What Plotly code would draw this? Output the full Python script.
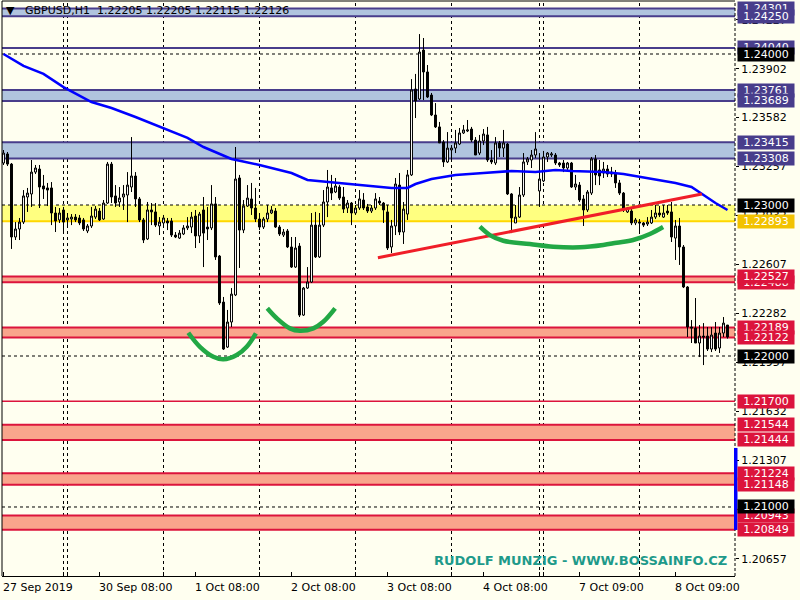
import plotly.graph_objects as go

# ---------------- data ----------------
bar_index = list(range(182))

open_ = [1.23278,1.23338,1.23271,1.22788,1.22841,1.22887,1.23053,1.23073,1.23218,1.23238,
 1.23126,1.23113,1.23113,1.22947,1.22901,1.22967,1.22901,1.22907,1.22920,1.22914,
 1.22901,1.22828,1.22861,1.22920,1.22960,1.22907,1.23013,1.23271,1.23060,1.23020,
 1.23053,1.23066,1.23119,1.23192,1.23040,1.22901,1.22775,1.22967,1.22954,1.22861,
 1.22881,1.22894,1.22894,1.22801,1.22781,1.22808,1.22848,1.22854,1.22927,1.22795,
 1.22967,1.22854,1.22848,1.23007,1.22662,1.22357,1.22059,1.22225,1.22404,1.23179,
 1.22834,1.22993,1.23040,1.22980,1.22907,1.22854,1.22907,1.22947,1.22960,1.22854,
 1.22801,1.22828,1.22722,1.22589,1.22728,1.22271,1.22450,1.22490,1.22867,1.22656,
 1.22867,1.23020,1.23113,1.23086,1.23119,1.23053,1.22980,1.23013,1.22947,1.22980,
 1.23033,1.22987,1.22960,1.22980,1.23026,1.23013,1.22954,1.22722,1.22861,1.23132,
 1.22821,1.22940,1.23199,1.23768,1.23702,1.24026,1.23881,1.23728,1.23596,1.23517,
 1.23417,1.23285,1.23364,1.23377,1.23404,1.23477,1.23490,1.23503,1.23430,1.23344,
 1.23424,1.23464,1.23298,1.23278,1.23411,1.23377,1.23404,1.23073,1.22881,1.22920,
 1.23066,1.23285,1.23298,1.23331,1.23093,1.23159,1.23318,1.23331,1.23331,1.23278,
 1.23278,1.23245,1.23278,1.23119,1.23132,1.23040,1.22967,1.23079,1.23305,1.23232,
 1.23212,1.23238,1.23218,1.23205,1.23146,1.23079,1.22954,1.22960,1.22881,1.22887,
 1.22881,1.22874,1.22881,1.22920,1.22947,1.22920,1.22960,1.22954,1.22781,1.22861,
 1.22722,1.22457,1.22192,1.22185,1.22086,1.22132,1.22132,1.22046,1.22152,1.22053,
 1.22152,1.22205]

high = [1.23364,1.23351,1.23278,1.22887,1.22914,1.23099,1.23113,1.23298,1.23265,1.23265,
 1.23199,1.23146,1.23152,1.22987,1.22980,1.22987,1.22947,1.22940,1.22940,1.22934,
 1.22914,1.22874,1.22987,1.22993,1.22980,1.23033,1.23285,1.23285,1.23132,1.23119,
 1.23132,1.23218,1.23450,1.23218,1.23053,1.22914,1.23020,1.23013,1.23013,1.22920,
 1.22934,1.22914,1.22914,1.22821,1.22834,1.22867,1.22920,1.22954,1.22967,1.22954,
 1.23053,1.22987,1.23132,1.23053,1.22669,1.22391,1.22305,1.22450,1.23384,1.23199,
 1.23033,1.23132,1.23146,1.23113,1.22947,1.22920,1.23000,1.22993,1.22980,1.22867,
 1.22841,1.22841,1.22788,1.22788,1.22748,1.22457,1.22589,1.22947,1.22954,1.22947,
 1.23099,1.23232,1.23199,1.23179,1.23132,1.23119,1.23033,1.23020,1.23000,1.23099,
 1.23079,1.23007,1.23000,1.23079,1.23053,1.23020,1.23000,1.22901,1.23179,1.23212,
 1.23020,1.23232,1.23834,1.23868,1.24132,1.24106,1.23927,1.23742,1.23675,1.23550,
 1.23430,1.23483,1.23397,1.23497,1.23510,1.23530,1.23563,1.23517,1.23450,1.23464,
 1.23503,1.23517,1.23364,1.23450,1.23424,1.23497,1.23411,1.23079,1.23000,1.23119,
 1.23344,1.23318,1.23364,1.23483,1.23344,1.23358,1.23351,1.23351,1.23344,1.23285,
 1.23298,1.23285,1.23285,1.23199,1.23152,1.23066,1.23099,1.23318,1.23331,1.23298,
 1.23285,1.23265,1.23252,1.23232,1.23166,1.23086,1.22987,1.22973,1.22914,1.22907,
 1.22887,1.22920,1.22967,1.23000,1.22993,1.23000,1.23000,1.23020,1.22901,1.22914,
 1.22735,1.22463,1.22238,1.22384,1.22205,1.22218,1.22192,1.22192,1.22225,1.22192,
 1.22258,1.22205]

low = [1.23265,1.23258,1.22709,1.22768,1.22768,1.22874,1.22954,1.22987,1.23205,1.22980,
 1.23040,1.22993,1.22867,1.22821,1.22881,1.22814,1.22854,1.22867,1.22887,1.22867,
 1.22828,1.22814,1.22848,1.22907,1.22894,1.22901,1.23007,1.23013,1.22987,1.22987,
 1.22967,1.22887,1.23086,1.22987,1.22887,1.22748,1.22768,1.22867,1.22854,1.22801,
 1.22854,1.22834,1.22788,1.22781,1.22775,1.22801,1.22834,1.22814,1.22715,1.22748,
 1.22589,1.22768,1.22834,1.22636,1.22338,1.22040,1.22053,1.22192,1.22397,1.22583,
 1.22814,1.22987,1.22934,1.22887,1.22834,1.22841,1.22887,1.22940,1.22848,1.22795,
 1.22788,1.22715,1.22583,1.22583,1.22258,1.22265,1.22444,1.22483,1.22649,1.22649,
 1.22854,1.22920,1.23033,1.23079,1.23033,1.22947,1.22947,1.22867,1.22934,1.22967,
 1.22967,1.22947,1.22947,1.22967,1.23000,1.22881,1.22702,1.22682,1.22801,1.22801,
 1.22742,1.22901,1.23192,1.23576,1.23695,1.23695,1.23709,1.23589,1.23510,1.23411,
 1.23252,1.23278,1.23298,1.23344,1.23397,1.23470,1.23483,1.23417,1.23331,1.23331,
 1.23397,1.23285,1.23271,1.23265,1.23318,1.23318,1.23066,1.22814,1.22881,1.22914,
 1.23053,1.23265,1.23245,1.23311,1.22987,1.23152,1.23285,1.23318,1.23265,1.23252,
 1.23218,1.23232,1.23113,1.23099,1.23020,1.22861,1.22954,1.23066,1.23132,1.23132,
 1.23179,1.23185,1.23185,1.23113,1.23066,1.22954,1.22947,1.22867,1.22867,1.22814,
 1.22854,1.22861,1.22874,1.22907,1.22920,1.22914,1.22934,1.22755,1.22636,1.22603,
 1.22450,1.22126,1.22086,1.22086,1.21993,1.21940,1.22033,1.22026,1.22033,1.22020,
 1.22126,1.22115]

close = [1.23344,1.23271,1.22788,1.22841,1.22887,1.23060,1.23079,1.23218,1.23245,1.23119,
 1.23106,1.23099,1.22947,1.22894,1.22947,1.22887,1.22914,1.22920,1.22901,1.22881,
 1.22841,1.22861,1.22927,1.22973,1.22901,1.23013,1.23271,1.23053,1.23013,1.23046,
 1.23073,1.23132,1.23192,1.23040,1.22901,1.22768,1.22967,1.22954,1.22867,1.22887,
 1.22914,1.22881,1.22801,1.22788,1.22814,1.22848,1.22861,1.22920,1.22795,1.22940,
 1.22814,1.22841,1.23007,1.22656,1.22351,1.22046,1.22225,1.22410,1.23172,1.22834,
 1.22993,1.23046,1.22980,1.22907,1.22854,1.22907,1.22947,1.22967,1.22854,1.22808,
 1.22821,1.22722,1.22589,1.22715,1.22271,1.22450,1.22490,1.22867,1.22656,1.22867,
 1.23020,1.23119,1.23079,1.23126,1.23046,1.22973,1.23013,1.22947,1.22980,1.23040,
 1.22980,1.22960,1.22980,1.23040,1.23013,1.22967,1.22715,1.22861,1.23139,1.22821,
 1.22973,1.23199,1.23762,1.23689,1.24013,1.23881,1.23715,1.23596,1.23517,1.23411,
 1.23285,1.23377,1.23377,1.23411,1.23477,1.23497,1.23497,1.23430,1.23331,1.23424,
 1.23470,1.23298,1.23285,1.23411,1.23377,1.23411,1.23073,1.22914,1.22920,1.23066,
 1.23285,1.23305,1.23331,1.23371,1.23172,1.23318,1.23344,1.23338,1.23278,1.23265,
 1.23245,1.23278,1.23119,1.23139,1.23033,1.22967,1.23086,1.23305,1.23199,1.23192,
 1.23238,1.23205,1.23205,1.23146,1.23079,1.22967,1.22980,1.22881,1.22901,1.22881,
 1.22867,1.22887,1.22920,1.22947,1.22934,1.22947,1.22947,1.22788,1.22861,1.22722,
 1.22457,1.22192,1.22185,1.22086,1.22132,1.22126,1.22046,1.22139,1.22046,1.22152,
 1.22218,1.22126]

# moving average (blue line), sampled at bar indices
ma_index = [0,5,10,15,22,27,33,40,46,50,57,64,72,76,84,90,97,101,103,107,113,120,127,133,
            138,142,150,155,163,168,172,175,178,181]
ma_value = [1.24000,1.23921,1.23868,1.23781,1.23682,1.23642,1.23583,1.23510,1.23444,1.23384,
            1.23305,1.23265,1.23212,1.23166,1.23146,1.23132,1.23113,1.23113,1.23139,1.23172,
            1.23199,1.23212,1.23225,1.23218,1.23232,1.23225,1.23218,1.23205,1.23166,1.23146,
            1.23119,1.23066,1.23013,1.22967]

# analyst drawings
trend_index = [93.6, 174.6]
trend_value = [1.22651, 1.23073]
arc1_index = [46.2, 49.1, 52.45, 54.95, 58.3, 60.8, 63.1]
arc1_value = [1.22154, 1.22061, 1.21995, 1.21978, 1.22006, 1.22061, 1.22150]
arc2_index = [65.95, 68.3, 71.6, 74.1, 77.45, 79.95, 82.9]
arc2_value = [1.22316, 1.22250, 1.22183, 1.22167, 1.22183, 1.22227, 1.22316]
arc3_index = [119.1, 121.6, 124.95, 131.6, 137.45, 144.1, 149.95, 153.3, 157.4, 161.6, 164.9]
arc3_value = [1.22856, 1.22801, 1.22763, 1.22742, 1.22724, 1.22720, 1.22735, 1.22750,
              1.22768, 1.22808, 1.22854]

# horizontal zones / lines
blue_zones = [(1.24250, 1.24301), (1.23689, 1.23761), (1.23308, 1.23415)]
blue_lines = [1.24040]
yellow_zone = (1.22893, 1.23000)
red_zones = [(1.22488, 1.22527), (1.22122, 1.22189), (1.21444, 1.21544),
             (1.21148, 1.21224), (1.20849, 1.20943)]
red_lines = [1.21700]
black_lines = [1.24000, 1.23000, 1.22000, 1.21000]

# price labels on the right, in drawing order
NAVY, CRIMSON, GOLD, BLACK = "#483D8B", "#DC143C", "#F2C200", "#000000"
label_values = [1.24301, 1.24250, 1.24040, 1.24000, 1.23761, 1.23689, 1.23415, 1.23308,
                1.23000, 1.22893, 1.22488, 1.22527, 1.22189, 1.22122, 1.22000, 1.21700,
                1.21544, 1.21444, 1.21224, 1.21148, 1.20943, 1.21000, 1.20849]
label_colors = [NAVY, NAVY, NAVY, BLACK, NAVY, NAVY, NAVY, NAVY,
                BLACK, GOLD, CRIMSON, CRIMSON, CRIMSON, CRIMSON, BLACK, CRIMSON,
                CRIMSON, CRIMSON, CRIMSON, CRIMSON, CRIMSON, BLACK, CRIMSON]

price_ticks = [1.20657, 1.20982, 1.21307, 1.21632, 1.21957, 1.22282, 1.22607, 1.22932,
               1.23257, 1.23582, 1.23902, 1.24227]

time_tick_index = [0, 24, 48, 72, 96, 120, 144, 168]
time_tick_labels = ["27 Sep 2019", "30 Sep 08:00", "1 Oct 08:00", "2 Oct 08:00",
                    "3 Oct 08:00", "4 Oct 08:00", "7 Oct 09:00", "8 Oct 09:00"]
day_separator_index = [15, 16, 40, 64, 88, 112, 134, 135, 159]

header_text = "▼\u00a0\u00a0 GBPUSD,H1\u00a0 1.22205 1.22205 1.22115 1.22126"
watermark_text = "RUDOLF MUNZIG - WWW.BOSSAINFO.CZ"

# ---------------- figure ----------------
BG = "#FFFFF0"
FONT = "DejaVu Sans"
X_RANGE = [-0.375, 182.875]
Y_RANGE = [1.205430, 1.243510]

fig = go.Figure()

shapes = []
for idx in day_separator_index:
    shapes.append(dict(type="line", xref="x", yref="paper", x0=idx, x1=idx, y0=0, y1=1,
                       line=dict(color="black", width=1, dash="3px,3px"), layer="below"))
for lo, hi in blue_zones:
    shapes.append(dict(type="rect", xref="paper", yref="y", x0=0, x1=1, y0=lo, y1=hi,
                       fillcolor="#B0C4DE", line=dict(width=0), layer="below"))
    for v in (lo, hi):
        shapes.append(dict(type="line", xref="paper", yref="y", x0=0, x1=1, y0=v, y1=v,
                           line=dict(color=NAVY, width=2), layer="below"))
for v in blue_lines:
    shapes.append(dict(type="line", xref="paper", yref="y", x0=0, x1=1, y0=v, y1=v,
                       line=dict(color=NAVY, width=2), layer="below"))
shapes.append(dict(type="rect", xref="paper", yref="y", x0=0, x1=1,
                   y0=yellow_zone[0], y1=yellow_zone[1], fillcolor="#FFFF80",
                   line=dict(width=0), layer="below"))
shapes.append(dict(type="line", xref="paper", yref="y", x0=0, x1=1,
                   y0=yellow_zone[0], y1=yellow_zone[0],
                   line=dict(color="#FFD700", width=2), layer="below"))
for lo, hi in red_zones:
    shapes.append(dict(type="rect", xref="paper", yref="y", x0=0, x1=1, y0=lo, y1=hi,
                       fillcolor="#F9A58C", line=dict(width=0), layer="below"))
    for v in (lo, hi):
        shapes.append(dict(type="line", xref="paper", yref="y", x0=0, x1=1, y0=v, y1=v,
                           line=dict(color=CRIMSON, width=2), layer="below"))
for v in red_lines:
    shapes.append(dict(type="line", xref="paper", yref="y", x0=0, x1=1, y0=v, y1=v,
                       line=dict(color=CRIMSON, width=1.5), layer="below"))
for v in black_lines:
    shapes.append(dict(type="line", xref="paper", yref="y", x0=0, x1=1, y0=v, y1=v,
                       line=dict(color="black", width=1, dash="3px,3px"), layer="below"))
# frame
shapes.append(dict(type="line", xref="paper", yref="paper", x0=0, x1=1, y0=1, y1=1,
                   line=dict(color="black", width=1)))
shapes.append(dict(type="line", xref="paper", yref="paper", x0=0, x1=0, y0=0, y1=1,
                   line=dict(color="black", width=1)))
shapes.append(dict(type="line", xref="paper", yref="paper", x0=1, x1=1, y0=0, y1=1,
                   line=dict(color="black", width=1, dash="3px,2px")))
# blue marker bar on the price scale
shapes.append(dict(type="rect", xref="paper", yref="y", x0=0.9986, x1=1.0034,
                   y0=1.20848, y1=1.21391, fillcolor="#0000FF", line=dict(width=0)))

fig.add_trace(go.Candlestick(
    x=bar_index, open=open_, high=high, low=low, close=close,
    increasing=dict(line=dict(color="black", width=1), fillcolor="white"),
    decreasing=dict(line=dict(color="black", width=1), fillcolor="black"),
    whiskerwidth=0, hoverinfo="skip", showlegend=False))

fig.add_trace(go.Scatter(x=ma_index, y=ma_value, mode="lines",
                         line=dict(color="#0000FF", width=2.5), showlegend=False,
                         hoverinfo="skip"))
fig.add_trace(go.Scatter(x=trend_index, y=trend_value, mode="lines",
                         line=dict(color="#F01E28", width=3), showlegend=False,
                         hoverinfo="skip"))
for xi, yv in ((arc1_index, arc1_value), (arc2_index, arc2_value), (arc3_index, arc3_value)):
    fig.add_trace(go.Scatter(x=xi, y=yv, mode="lines",
                             line=dict(color="#22A845", width=4.5, shape="spline"),
                             showlegend=False, hoverinfo="skip"))

annotations = []
for v, c in zip(label_values, label_colors):
    annotations.append(dict(x=1, xref="paper", xanchor="left", xshift=2,
                            y=v, yref="y", yanchor="middle", text=f"{v:.5f}",
                            showarrow=False, bgcolor=c, borderpad=0,
                            width=56, height=13, align="center",
                            font=dict(family=FONT, size=11, color="white")))
for idx, lab in zip(time_tick_index, time_tick_labels):
    annotations.append(dict(x=idx, xref="x", xanchor="left", xshift=-3,
                            y=0, yref="paper", yanchor="top", yshift=-3,
                            text=lab, showarrow=False,
                            font=dict(family=FONT, size=11, color="black")))
annotations.append(dict(x=0, xref="paper", xanchor="left", xshift=2,
                        y=1, yref="paper", yanchor="top", yshift=-1,
                        text=header_text, showarrow=False,
                        font=dict(family=FONT, size=11, color="black")))
annotations.append(dict(x=1, xref="paper", xanchor="right", xshift=-6,
                        y=0, yref="paper", yanchor="bottom", yshift=6,
                        text="<b>" + watermark_text + "</b>", showarrow=False,
                        font=dict(family=FONT, size=13, color="#1E9A8A")))

fig.update_layout(
    width=800, height=600,
    margin=dict(l=2, r=65, t=1, b=24),
    paper_bgcolor=BG, plot_bgcolor=BG,
    shapes=shapes, annotations=annotations,
    showlegend=False,
    xaxis=dict(range=X_RANGE, showgrid=False, zeroline=False, rangeslider=dict(visible=False),
               showline=True, linecolor="black", linewidth=1,
               tickmode="array", tickvals=time_tick_index + day_separator_index,
               ticks="inside", ticklen=4, tickcolor="black", showticklabels=False),
    yaxis=dict(range=Y_RANGE, side="right", showgrid=False, zeroline=False,
               tickmode="array", tickvals=price_ticks,
               ticktext=[f"{v:.5f}" for v in price_ticks],
               ticks="outside", ticklen=3, tickcolor="black",
               tickfont=dict(family=FONT, size=11, color="black")),
    font=dict(family=FONT),
)

fig.write_html("out.html",
               config={"displayModeBar": False},
               post_script="document.body.style.margin='0';"
                           "document.body.style.overflow='hidden';"
                           "document.body.style.background='" + BG + "';")
